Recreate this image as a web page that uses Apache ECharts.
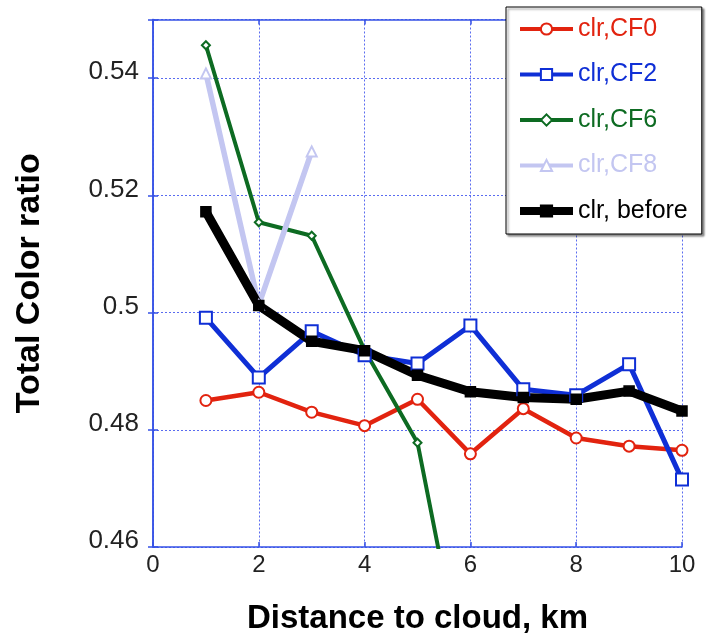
<!DOCTYPE html>
<html>
<head>
<meta charset="utf-8">
<script src="https://cdn.jsdelivr.net/npm/echarts@6/dist/echarts.min.js"></script>
<style>
  html, body { margin: 0; padding: 0; background: #fff; }
  #chart { width: 727px; height: 640px; }
</style>
</head>
<body>
<div id="chart"></div>
<script>
// distance to cloud (km)
const distance = [1, 2, 3, 4, 5, 6, 7, 8, 9, 10]

// total color ratio per series
const cf0    = [0.4850, 0.4864, 0.4830, 0.4807, 0.4852, 0.4759, 0.4836, 0.4786, 0.4772, 0.4765]
const cf2    = [0.4991, 0.4889, 0.4968, 0.4927, 0.4913, 0.4978, 0.4869, 0.4859, 0.4912, 0.4715]
const cf6    = [0.5456, 0.5154, 0.5131, 0.4936, 0.4778, 0.4320]
const cf8    = [0.5408, 0.5013, 0.5275]
const before = [0.5172, 0.5012, 0.4951, 0.4935, 0.4893, 0.4865, 0.4855, 0.4852, 0.4866, 0.4832]

const names  = ['clr,CF0', 'clr,CF2', 'clr,CF6', 'clr,CF8', 'clr, before']
const colors = ['#e2230f', '#0f2fd6', '#0d6b22', '#c3c6f1', '#000000']

const xTicks = { min: 0, max: 10, interval: 2 }
const yTicks = { min: 0.46, max: 0.55, interval: 0.02 }

const pairs = vals => vals.map((v, i) => [distance[i], v])

const FONT = 'Liberation Sans, Arial, sans-serif'
const frame = '#3652e6'
const grid  = '#5a6cf0'

const chart = echarts.init(document.getElementById('chart'), null, { renderer: 'canvas' })

const mkSeries = (i, data, symbol, size, width, extra) => Object.assign({
  name: names[i],
  type: 'line',
  data: pairs(data),
  symbol,
  symbolSize: size,
  showAllSymbol: true,
  clip: true,
  lineStyle: { color: colors[i], width },
  itemStyle: { color: colors[i], borderColor: colors[i], borderWidth: 1.5 },
  emphasis: { disabled: true },
  animation: false,
}, extra || {})

chart.setOption({
  animation: false,
  textStyle: { fontFamily: FONT },
  grid: { left: 153, right: 45, top: 19.5, bottom: 92.5, containLabel: false },
  legend: {
    orient: 'vertical',
    left: 506,
    top: 7,
    padding: [8, 14, 9, 10],
    itemWidth: 53,
    itemHeight: 14,
    itemGap: 17.5,
    backgroundColor: '#fff',
    borderColor: '#000',
    borderWidth: 1,
    borderRadius: 0,
    shadowColor: 'rgba(0,0,0,0.45)',
    shadowBlur: 2,
    shadowOffsetX: 2,
    shadowOffsetY: 2,
    selectedMode: false,
    textStyle: { fontSize: 25, fontFamily: FONT, lineHeight: 28 },
    data: names.map((n, i) => ({
      name: n,
      textStyle: { color: colors[i] },
      lineStyle: { width: i === 4 ? 8 : 4 },
    })),
  },
  xAxis: [
    {
      type: 'value', ...xTicks,
      name: 'Distance to cloud, km',
      nameLocation: 'middle',
      nameGap: 55,
      nameTextStyle: { fontSize: 33, fontWeight: 'bold', color: '#000', fontFamily: FONT },
      axisLine: { show: true, lineStyle: { color: frame, width: 1.5 } },
      axisTick: { show: true, inside: true, length: 5, lineStyle: { color: frame, width: 1.5 } },
      axisLabel: { fontSize: 24, color: '#222', margin: 6 },
      splitLine: { show: true, lineStyle: { color: grid, width: 1, type: [2, 2] } },
    },
    {
      type: 'value', ...xTicks, position: 'top',
      axisLine: { show: true, lineStyle: { color: frame, width: 1.5 } },
      axisTick: { show: true, inside: true, length: 5, lineStyle: { color: frame, width: 1.5 } },
      axisLabel: { show: false },
      splitLine: { show: false },
    },
  ],
  yAxis: [
    {
      type: 'value', ...yTicks,
      name: 'Total Color ratio',
      nameLocation: 'middle',
      nameGap: 106,
      nameTextStyle: { fontSize: 34, fontWeight: 'bold', color: '#000', fontFamily: FONT },
      axisLine: { show: true, lineStyle: { color: frame, width: 1.5 } },
      axisTick: { show: true, inside: true, length: 5, lineStyle: { color: frame, width: 1.5 } },
      axisLabel: {
        fontSize: 26, color: '#222', margin: 14, verticalAlign: 'bottom', lineHeight: 12,
        formatter: v => (v > 0.545 ? '' : String(+v.toFixed(2))),
      },
      splitLine: { show: true, lineStyle: { color: grid, width: 1, type: [2, 2] } },
    },
    {
      type: 'value', ...yTicks, position: 'right',
      axisLine: { show: true, lineStyle: { color: frame, width: 1.5 } },
      axisTick: { show: true, inside: true, length: 5, lineStyle: { color: frame, width: 1.5 } },
      axisLabel: { show: false },
      splitLine: { show: false },
    },
  ],
  series: [
    mkSeries(0, cf0, 'emptyCircle', 11, 4.5),
    mkSeries(1, cf2, 'emptyRect', 12, 5),
    mkSeries(2, cf6, 'emptyDiamond', 8, 4, { itemStyle: { color: colors[2], borderColor: colors[2], borderWidth: 2 } }),
    mkSeries(3, cf8, 'emptyTriangle', 10, 5.5),
    mkSeries(4, before, 'rect', 10, 9),
  ],
})
</script>
</body>
</html>
